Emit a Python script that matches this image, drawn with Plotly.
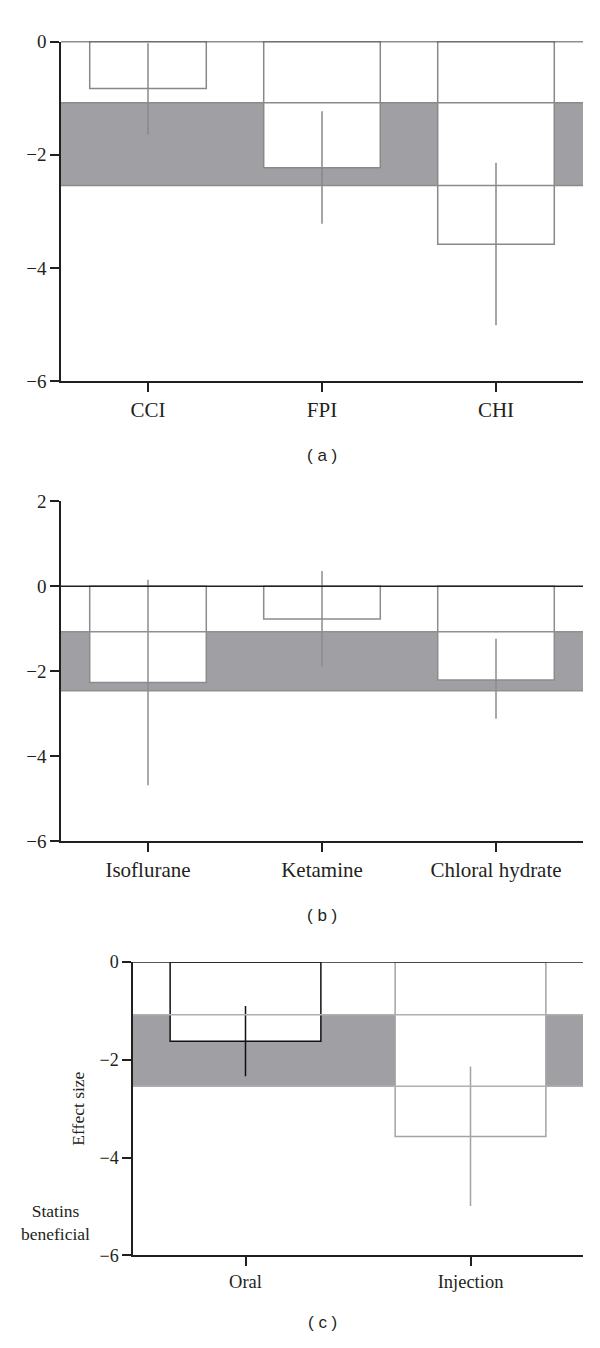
import plotly.graph_objects as go

# panel (a): injury model
a_cats = ["CCI", "FPI", "CHI"]
a_mean = [-0.83, -2.23, -3.58]
a_lo = [-1.64, -3.22, -5.01]
a_hi = [-0.03, -1.23, -2.14]
a_band = [-1.08, -2.54]

# panel (b): anaesthetic
b_cats = ["Isoflurane", "Ketamine", "Chloral hydrate"]
b_mean = [-2.27, -0.77, -2.21]
b_lo = [-4.69, -1.89, -3.12]
b_hi = [0.15, 0.36, -1.24]
b_band = [-1.07, -2.46]

# panel (c): route
c_cats = ["Oral", "Injection"]
c_mean = [-1.62, -3.57]
c_lo = [-2.34, -4.99]
c_hi = [-0.90, -2.14]
c_band = [-1.08, -2.54]

# the page body has an 8px margin, so shrink the figure and shift coordinates
OFF = 8
W, H = 600 - OFF, 1348 - OFF
SERIF = "Liberation Serif"
INK = "#231f20"
BAND = "#a09fa4"


def px_x(v):
    return (v - OFF) / W


def px_y(v):
    return 1 - (v - OFF) / H


def bar(cats, mean, lo, hi, xa, ya, col):
    return go.Bar(
        x=cats, y=mean, width=0.67, xaxis=xa, yaxis=ya,
        marker=dict(color="white", line=dict(color=col, width=1.5)),
        error_y=dict(type="data", symmetric=False,
                     array=[h - m for h, m in zip(hi, mean)],
                     arrayminus=[m - l for m, l in zip(mean, lo)],
                     width=0, thickness=1.5, color=col),
        showlegend=False,
    )


fig = go.Figure()
fig.add_trace(bar(a_cats, a_mean, a_lo, a_hi, "x", "y", "#888888"))
fig.add_trace(bar(b_cats, b_mean, b_lo, b_hi, "x2", "y2", "#8c8c8c"))
fig.add_trace(bar(c_cats[:1], c_mean[:1], c_lo[:1], c_hi[:1], "x3", "y3", "#111111"))
fig.add_trace(bar(c_cats[1:], c_mean[1:], c_lo[1:], c_hi[1:], "x3", "y3", "#a3a3a3"))

shapes = []
for xr, yr, band, lc in [("x", "y", a_band, "#8a8a8a"), ("x2", "y2", b_band, "#909090"),
                         ("x3", "y3", c_band, "#b0b0b0")]:
    shapes.append(dict(type="rect", xref=xr + " domain", yref=yr, x0=0, x1=1,
                       y0=band[0], y1=band[1], fillcolor=BAND, line_width=0, layer="below"))
    for v in band:
        shapes.append(dict(type="line", xref=xr + " domain", yref=yr, x0=0, x1=1,
                           y0=v, y1=v, line=dict(color=lc, width=1.5), layer="above"))
    shapes.append(dict(type="line", xref=xr + " domain", yref=yr, x0=0, x1=1,
                       y0=0, y1=0, line=dict(color=INK, width=1.5), layer="above"))

axcommon = dict(showline=True, linecolor=INK, linewidth=1.5, ticks="outside", ticklen=9,
                tickwidth=1.5, tickcolor=INK, showgrid=False, zeroline=False)
xfont = dict(family=SERIF, size=21, color=INK)
yfont = dict(family=SERIF, size=19, color=INK)

fig.update_layout(
    width=W, height=H, autosize=False,
    margin=dict(l=0, r=0, t=0, b=0),
    paper_bgcolor="white", plot_bgcolor="white",
    barmode="overlay", shapes=shapes,
    xaxis=dict(axcommon, domain=[px_x(61), px_x(583)], anchor="y", range=[-0.5, 2.5],
               tickfont=xfont),
    yaxis=dict(axcommon, domain=[px_y(377), px_y(32)], anchor="x", range=[-6, 0],
               tickvals=[0, -2, -4, -6], tickfont=yfont),
    xaxis2=dict(axcommon, domain=[px_x(61), px_x(583)], anchor="y2", range=[-0.5, 2.5],
                tickfont=xfont),
    yaxis2=dict(axcommon, domain=[px_y(844), px_y(499)], anchor="x2", range=[-6, 2],
                tickvals=[2, 0, -2, -4, -6], tickfont=yfont),
    xaxis3=dict(axcommon, domain=[px_x(133), px_x(583)], anchor="y3", range=[-0.5, 1.5],
                tickfont=dict(family=SERIF, size=18.5, color=INK)),
    yaxis3=dict(axcommon, domain=[px_y(1265), px_y(967)], anchor="x3", range=[-6, 0],
                tickvals=[0, -2, -4, -6], tickfont=dict(family=SERIF, size=18, color=INK)),
)

for txt, y in [("( a )", 452), ("( b )", 920), ("( c )", 1333)]:
    fig.add_annotation(text=txt, x=px_x(322), y=px_y(y), xref="paper", yref="paper",
                       xanchor="center", yanchor="middle", showarrow=False,
                       font=dict(family="Liberation Sans", size=17, color=INK))

fig.add_annotation(text="Effect size", x=px_x(78), y=px_y(1116), xref="paper", yref="paper",
                   xanchor="center", yanchor="middle", textangle=-90, showarrow=False,
                   font=dict(family=SERIF, size=17.5, color=INK))
fig.add_annotation(text="Statins<br>beneficial", x=px_x(55), y=px_y(1232), xref="paper",
                   yref="paper", xanchor="center", yanchor="middle", showarrow=False,
                   align="center", font=dict(family=SERIF, size=17.5, color=INK))

fig.write_html("out.html")
